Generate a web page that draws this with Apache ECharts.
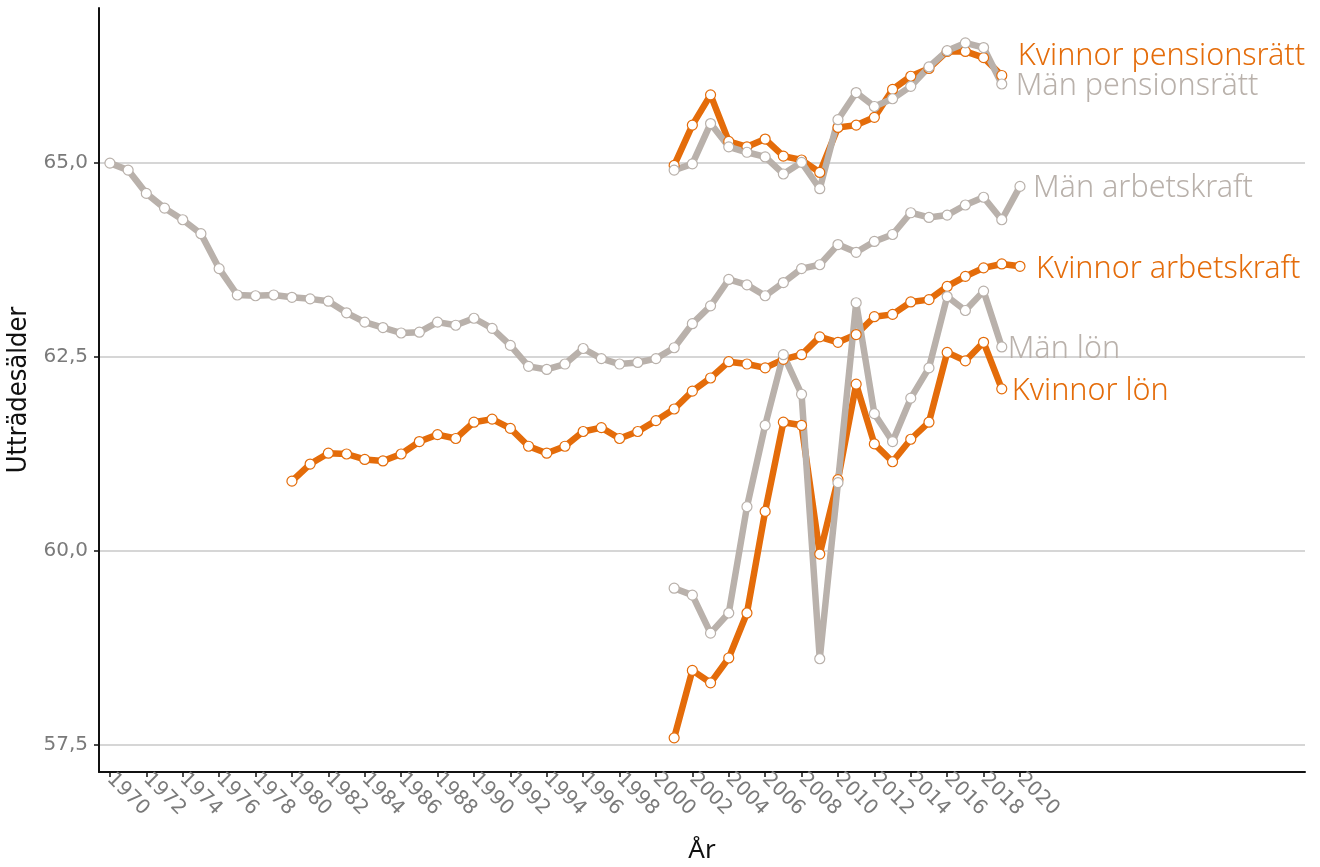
<!DOCTYPE html>
<html>
<head>
<meta charset="utf-8">
<script src="https://cdn.jsdelivr.net/npm/echarts@6/dist/echarts.min.js"></script>
<style>
  html, body { margin: 0; padding: 0; background: #fff; }
  #chart { width: 1320px; height: 867px; }
</style>
</head>
<body>
<div id="chart"></div>
<script>
const years = [
  1970, 1971, 1972, 1973, 1974, 1975, 1976, 1977, 1978, 1979,
  1980, 1981, 1982, 1983, 1984, 1985, 1986, 1987, 1988, 1989,
  1990, 1991, 1992, 1993, 1994, 1995, 1996, 1997, 1998, 1999,
  2000, 2001, 2002, 2003, 2004, 2005, 2006, 2007, 2008, 2009,
  2010, 2011, 2012, 2013, 2014, 2015, 2016, 2017, 2018, 2019,
  2020
]
const yearTicks = [1970, 1972, 1974, 1976, 1978, 1980, 1982, 1984, 1986, 1988, 1990, 1992, 1994, 1996, 1998, 2000, 2002, 2004, 2006, 2008, 2010, 2012, 2014, 2016, 2018, 2020]
const ageTicks = [57.5, 60, 62.5, 65]

// en plats per år, null där serien saknar värde
const manArbetskraft = [
  65.00, 64.91, 64.61, 64.42, 64.27, 64.09, 63.64, 63.30, 63.29, 63.30,
  63.27, 63.25, 63.22, 63.07, 62.95, 62.88, 62.81, 62.82, 62.95, 62.91,
  63.00, 62.87, 62.65, 62.38, 62.34, 62.41, 62.61, 62.48, 62.41, 62.43,
  62.48, 62.62, 62.93, 63.16, 63.50, 63.43, 63.29, 63.46, 63.64, 63.69,
  63.95, 63.85, 63.99, 64.08, 64.36, 64.30, 64.33, 64.46, 64.56, 64.27,
  64.70
]
const kvinnorArbetskraft = [
  null, null, null, null, null, null, null, null, null, null,
  60.90, 61.12, 61.26, 61.25, 61.18, 61.16, 61.25, 61.41, 61.50, 61.45,
  61.66, 61.70, 61.58, 61.35, 61.26, 61.35, 61.54, 61.59, 61.45, 61.54,
  61.68, 61.83, 62.06, 62.23, 62.44, 62.41, 62.36, 62.47, 62.53, 62.76,
  62.69, 62.79, 63.02, 63.05, 63.21, 63.24, 63.41, 63.54, 63.65, 63.70,
  63.67
]
const manLon = [
  null, null, null, null, null, null, null, null, null, null,
  null, null, null, null, null, null, null, null, null, null,
  null, null, null, null, null, null, null, null, null, null,
  null, 59.52, 59.43, 58.94, 59.20, 60.57, 61.62, 62.53, 62.02, 58.61,
  60.88, 63.20, 61.77, 61.41, 61.97, 62.36, 63.28, 63.10, 63.35, 62.63,
  null
]
const kvinnorLon = [
  null, null, null, null, null, null, null, null, null, null,
  null, null, null, null, null, null, null, null, null, null,
  null, null, null, null, null, null, null, null, null, null,
  null, 57.59, 58.46, 58.30, 58.62, 59.20, 60.51, 61.66, 61.62, 59.96,
  60.92, 62.15, 61.38, 61.15, 61.44, 61.66, 62.56, 62.45, 62.69, 62.09,
  null
]
const manPension = [
  null, null, null, null, null, null, null, null, null, null,
  null, null, null, null, null, null, null, null, null, null,
  null, null, null, null, null, null, null, null, null, null,
  null, 64.91, 64.99, 65.51, 65.21, 65.14, 65.08, 64.86, 65.01, 64.67,
  65.56, 65.91, 65.73, 65.83, 65.99, 66.24, 66.45, 66.55, 66.49, 66.02,
  null
]
const kvinnorPension = [
  null, null, null, null, null, null, null, null, null, null,
  null, null, null, null, null, null, null, null, null, null,
  null, null, null, null, null, null, null, null, null, null,
  null, 64.97, 65.49, 65.88, 65.28, 65.21, 65.31, 65.09, 65.04, 64.88,
  65.46, 65.49, 65.59, 65.95, 66.12, 66.22, 66.44, 66.44, 66.36, 66.13,
  null
]

const ORANGE = '#e46c0a'
const GREY = '#b9b1ab'

const pairs = (vals) => years.map((y, i) => [y, vals[i]]).filter(d => d[1] !== null)

const line = (name, vals, color, offset) => ({
  name,
  type: 'line',
  data: pairs(vals),
  lineStyle: { color, width: 6.5 },
  itemStyle: { color: '#fff', borderColor: color, borderWidth: 1.2 },
  symbol: 'circle',
  symbolSize: 10,
  showAllSymbol: true,
  emphasis: { disabled: true },
  endLabel: {
    show: true,
    formatter: name,
    color,
    fontFamily: 'Noto Sans',
    fontWeight: 300,
    fontSize: 30.5,
    distance: 5,
    offset
  }
})

const chart = echarts.init(document.getElementById('chart'), null, { renderer: 'canvas' })
chart.setOption({
  animation: false,
  grid: { left: 99, right: 15, top: 8, bottom: 95, containLabel: false, outerBoundsMode: 'none' },
  xAxis: {
    type: 'value',
    min: 1969.4,
    max: 2035.66,
    name: 'År',
    nameLocation: 'middle',
    nameGap: 66,
    nameTextStyle: { color: '#111', fontSize: 26, fontFamily: 'Noto Sans' },
    axisLine: { show: true, lineStyle: { color: '#111', width: 2 } },
    axisTick: { show: true, customValues: yearTicks, length: 5, lineStyle: { color: '#111', width: 1.5 } },
    axisLabel: {
      customValues: yearTicks,
      rotate: -45,
      margin: 4,
      color: '#7a7a7a',
      fontSize: 20,
      fontFamily: 'DejaVu Sans',
      formatter: v => String(v)
    },
    splitLine: { show: false }
  },
  yAxis: {
    type: 'value',
    min: 57.15,
    max: 67.0,
    name: 'Utträdesälder',
    nameLocation: 'middle',
    nameRotate: 90,
    nameGap: 59,
    nameTextStyle: { color: '#111', fontSize: 27, fontFamily: 'DejaVu Sans Condensed' },
    axisLine: { show: true, lineStyle: { color: '#111', width: 2 } },
    axisTick: { show: true, customValues: ageTicks, length: 5, lineStyle: { color: '#111', width: 1.5 } },
    axisLabel: {
      customValues: ageTicks,
      margin: 11,
      color: '#7a7a7a',
      fontSize: 20,
      fontFamily: 'DejaVu Sans',
      formatter: v => v.toFixed(1).replace('.', ',')
    },
    splitLine: { show: true, lineStyle: { color: '#c8c8c8', width: 1.5 } }
  },
  series: [
    line('Kvinnor pensionsrätt', kvinnorPension, ORANGE, [11, -19]),
    line('Kvinnor arbetskraft', kvinnorArbetskraft, ORANGE, [11, 3]),
    line('Kvinnor lön', kvinnorLon, ORANGE, [5, 2]),
    line('Män pensionsrätt', manPension, GREY, [9, 2]),
    line('Män arbetskraft', manArbetskraft, GREY, [8, 2]),
    line('Män lön', manLon, GREY, [1, 2])
  ]
})
</script>
</body>
</html>
